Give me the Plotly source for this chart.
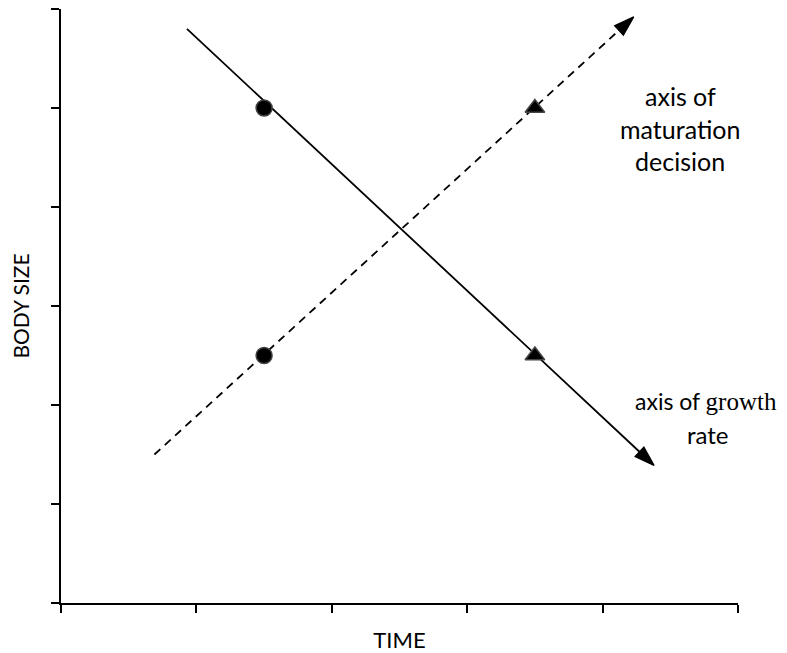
import plotly.graph_objects as go

# ---- data (axis units: time 0-5, body size 0-6) ----
growth_x = [0.93, 4.38]
growth_y = [5.80, 1.39]
maturation_x = [0.69, 4.23]
maturation_y = [1.50, 5.92]
circle_x = [1.5, 1.5]
circle_y = [5.0, 2.5]
triangle_x = [3.5, 3.5]
triangle_y = [5.0, 2.5]
x_ticks = [0, 1, 2, 3, 4, 5]
y_ticks = [0, 1, 2, 3, 4, 5, 6]
x_title = "TIME"
y_title = "BODY SIZE"

FONT = "Lato"

fig = go.Figure()

arrow_marker = dict(symbol="arrow", size=[0, 21], color="#000000", opacity=1,
                    angleref="previous", line=dict(color="#000000", width=1.2))

# axis of growth rate (solid, arrow at end)
fig.add_trace(go.Scatter(
    x=growth_x, y=growth_y, mode="lines+markers",
    line=dict(color="black", width=1.8),
    marker=arrow_marker, showlegend=False, hoverinfo="skip"))

# axis of maturation decision (dashed, arrow at end)
fig.add_trace(go.Scatter(
    x=maturation_x, y=maturation_y, mode="lines+markers",
    line=dict(color="black", width=1.8, dash="8px,6px"),
    marker=arrow_marker, showlegend=False, hoverinfo="skip"))

fig.add_trace(go.Scatter(
    x=circle_x, y=circle_y, mode="markers",
    marker=dict(symbol="circle", size=16, color="black",
                line=dict(color="#444444", width=1.5)),
    showlegend=False, hoverinfo="skip"))

fig.add_trace(go.Scatter(
    x=triangle_x, y=triangle_y, mode="markers",
    marker=dict(symbol="triangle-up", size=17, color="black",
                line=dict(color="#444444", width=1.5)),
    showlegend=False, hoverinfo="skip"))

def lab(text, x, y, size=25):
    fig.add_annotation(x=x, y=y, xref="x", yref="y", text=text, showarrow=False,
                       xanchor="center", yanchor="middle",
                       font=dict(family=FONT, size=size, color="black"))

# label: axis of maturation decision
lab("axis of", 4.575, 5.12)
lab("maturation", 4.575, 4.79)
lab("decision", 4.575, 4.46)
# label: axis of growth rate
lab("axis of <span style='font-family:Liberation Serif;font-size:25px'>growth</span>",
    4.76, 2.04, size=23)
lab("rate", 4.78, 1.70, size=24)

axis_common = dict(showgrid=False, zeroline=False, showline=True, linecolor="black",
                   linewidth=2, ticks="outside", ticklen=8, tickwidth=1.5,
                   tickcolor="black", showticklabels=False)

fig.update_xaxes(range=[0, 5], tickvals=x_ticks,
                 title=dict(text=x_title, font=dict(family=FONT, size=22, color="black"),
                            standoff=22),
                 **axis_common)
fig.update_yaxes(range=[0, 6], tickvals=y_ticks,
                 title=dict(text=y_title, font=dict(family=FONT, size=21, color="black"),
                            standoff=25),
                 **axis_common)

# page body has an 8px margin: figure is shifted by 8px, so size/margins compensate
fig.update_layout(width=779, height=645,
                  margin=dict(l=53, r=49, t=1, b=50, autoexpand=False),
                  plot_bgcolor="white", paper_bgcolor="white",
                  font=dict(family=FONT))

fig.write_html("out.html")
